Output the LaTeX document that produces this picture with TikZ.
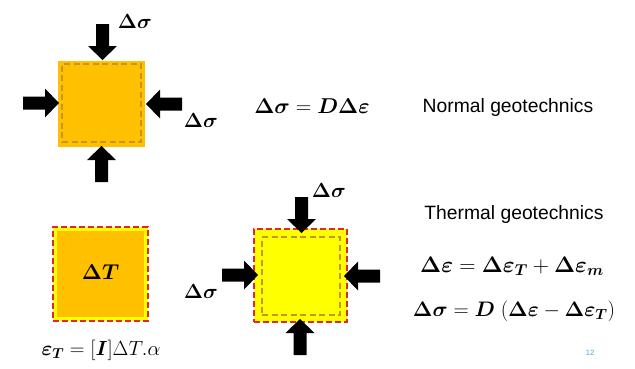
\RequirePackage{fix-cm}
\documentclass[tikz,border=0pt]{standalone}
\usepackage{amsmath,bm}
\usepackage{fontspec}
\newfontfamily\arialf{Liberation Sans}
\definecolor{orangefill}{HTML}{FFC000}
\definecolor{yellowfill}{HTML}{FFFF00}
\definecolor{golddash}{HTML}{C4961E}
\definecolor{reddash}{HTML}{E3262B}
\definecolor{pagenum}{HTML}{3FA9DA}
\begin{document}
\begin{tikzpicture}[x=1pt,y=-1pt,
  mth/.style={inner sep=0pt,font=\fontsize{20.5}{24}\selectfont},
  txt/.style={inner sep=0pt,font=\arialf\fontsize{19.3}{23}\selectfont},
  blockarr/.pic={\fill[black] (0,-6.5) -- (22,-6.5) -- (22,-14.5) -- (36,0) -- (22,14.5) -- (22,6.5) -- (0,6.5) -- cycle;},
  innerdash/.style={draw=golddash,line width=1.4pt,dash pattern=on 6pt off 3.5pt},
  reddashed/.style={draw=reddash,line width=1.6pt,dash pattern=on 6pt off 3pt},
  sqbox/.style={rectangle,inner sep=0pt,outer sep=0pt}]
\useasboundingbox[fill=white] (0,0) rectangle (635,368);

% --- top: normal geotechnics square
\node[sqbox,fill=orangefill,minimum width=87pt,minimum height=86pt] (sq1) at (101.5,104) {};
\node[sqbox,innerdash,minimum width=79pt,minimum height=78pt] (sq1in) at (101.5,103) {};
\pic[rotate=-90] at (102.5,24) {blockarr};
\pic[rotate=90] at (101.5,182) {blockarr};
\pic at (23,103) {blockarr};
\pic[rotate=180] at (182,104) {blockarr};
\node[mth] (l1top) at (135,21) {$\bm{\Delta\sigma}$};
\node[mth] (l1right) at (201,120) {$\bm{\Delta\sigma}$};
\node[mth,font=\fontsize{21.5}{25}\selectfont] (eq1) at (312,106) {$\bm{\Delta\sigma} = \bm{D}\bm{\Delta\varepsilon}$};
\node[txt] (normal) at (508,108) {Normal geotechnics};

% --- bottom left: temperature square
\node[sqbox,fill=yellowfill,minimum width=95pt,minimum height=94pt] (sq2) at (100.5,274) {};
\node[sqbox,fill=orangefill,minimum width=87pt,minimum height=86pt] (sq2in) at (100.5,274) {};
\node[sqbox,reddashed,minimum width=95pt,minimum height=94pt] (sq2b) at (100.5,274) {};
\node[mth,font=\fontsize{21.5}{25}\selectfont] (dT) at (100.5,272) {$\bm{\Delta T}$};
\node[mth] (epsT) at (101,350) {$\bm{\varepsilon_T} = [\bm{I}]\Delta T.\alpha$};

% --- bottom middle: thermal square
\node[sqbox,fill=yellowfill,minimum width=93pt,minimum height=93pt] (sq3) at (300.5,275.5) {};
\node[sqbox,reddashed,minimum width=93pt,minimum height=93pt] (sq3b) at (300.5,275.5) {};
\node[sqbox,innerdash,minimum width=78pt,minimum height=78pt] (sq3in) at (301,276) {};
\pic[rotate=-90] at (301.5,197) {blockarr};
\pic[rotate=90] at (300,355) {blockarr};
\pic at (222,275) {blockarr};
\pic[rotate=180] at (380,276) {blockarr};
\node[mth] (l2top) at (329,190) {$\bm{\Delta\sigma}$};
\node[mth] (l2left) at (201,291) {$\bm{\Delta\sigma}$};

% --- right texts
\node[txt] (thermal) at (514,215) {Thermal geotechnics};
\node[mth,font=\fontsize{22.5}{26}\selectfont] (eq2) at (512,266) {$\bm{\Delta\varepsilon} = \bm{\Delta\varepsilon_T} + \bm{\Delta\varepsilon_m}$};
\node[mth,font=\fontsize{21}{25}\selectfont] (eq3) at (514,311) {$\bm{\Delta\sigma} = \bm{D}\;(\bm{\Delta\varepsilon} - \bm{\Delta\varepsilon_T})$};
\node[inner sep=0pt,font=\arialf\fontsize{7.5}{8}\selectfont,text=pagenum] (pnum) at (590,353) {12};
\end{tikzpicture}
\end{document}
